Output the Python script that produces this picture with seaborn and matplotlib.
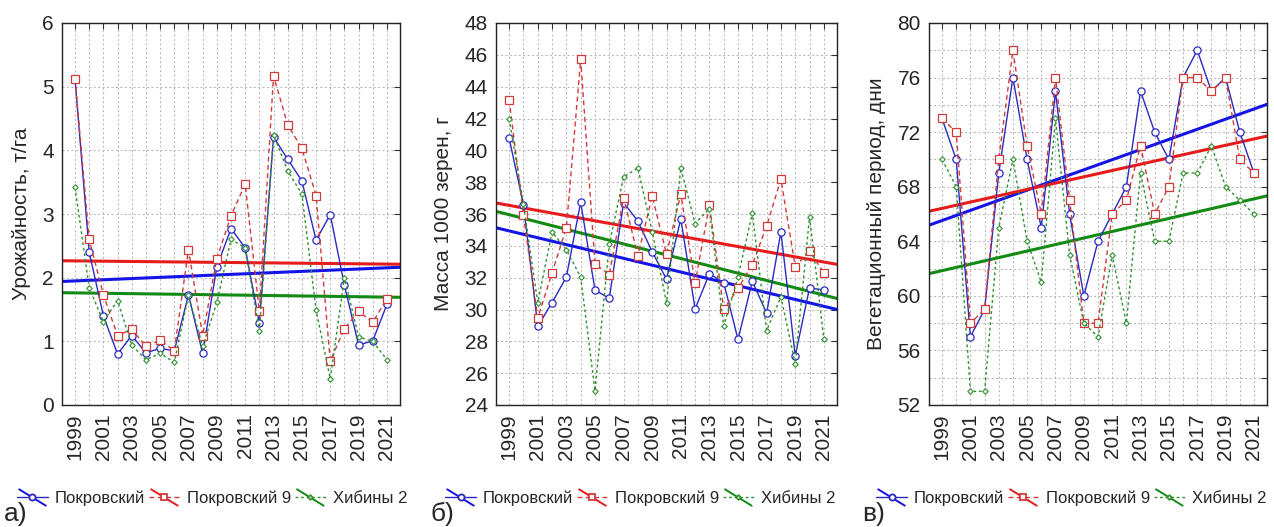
import numpy as np
import pandas as pd
import matplotlib
matplotlib.use("Agg")
import matplotlib.pyplot as plt
import seaborn as sns
from matplotlib.lines import Line2D
from matplotlib.legend_handler import HandlerLine2D
from matplotlib.ticker import FixedLocator, MultipleLocator

# ---- data -------------------------------------------------------------
years = list(range(1999, 2022))
varieties = ["Покровский", "Покровский 9", "Хибины 2"]

# yield, t/ha
yield_pokr = [5.12, 2.40, 1.40, 0.80, 1.09, 0.82, 0.89, 0.85, 1.73, 0.81,
              2.17, 2.77, 2.47, 1.29, 4.21, 3.86, 3.52, 2.59, 2.99, 1.88,
              0.94, 1.01, 1.58]
yield_pokr9 = [5.12, 2.60, 1.73, 1.09, 1.19, 0.92, 1.02, 0.85, 2.44, 1.09,
               2.30, 2.97, 3.47, 1.47, 5.17, 4.40, 4.03, 3.29, 0.69, 1.20,
               1.47, 1.30, 1.67]
yield_khib2 = [3.42, 1.84, 1.31, 1.64, 0.94, 0.71, 0.81, 0.67, 1.72, 0.92,
               1.61, 2.60, 2.47, 1.17, 4.24, 3.68, 3.31, 1.49, 0.41, 2.00,
               1.07, 1.00, 0.71]

# 1000-grain mass, g
mass_pokr = [40.76, 36.58, 28.95, 30.43, 32.04, 36.74, 31.22, 30.70, 36.72, 35.55,
             33.63, 31.90, 35.69, 30.04, 32.25, 31.69, 28.12, 31.77, 29.77, 34.87,
             27.09, 31.36, 31.22]
mass_pokr9 = [43.18, 35.92, 29.46, 32.31, 35.13, 45.71, 32.87, 32.19, 37.03, 33.38,
              37.13, 33.48, 37.26, 31.67, 36.58, 30.02, 31.32, 32.82, 35.24, 38.19,
              32.70, 33.65, 32.31]
mass_khib2 = [41.98, 36.60, 30.43, 34.87, 33.75, 32.04, 24.89, 34.10, 38.33, 38.89,
              34.89, 30.43, 38.89, 35.40, 36.33, 28.95, 32.04, 36.06, 28.68, 30.80,
              26.58, 35.81, 28.16]

# growing season length, days
veg_pokr = [73, 70, 57, 59, 69, 76, 70, 65, 75, 66,
            60, 64, 66, 68, 75, 72, 70, 76, 78, 75,
            76, 72, 69]
veg_pokr9 = [73, 72, 58, 59, 70, 78, 71, 66, 76, 67,
             58, 58, 66, 67, 71, 66, 68, 76, 76, 75,
             76, 70, 69]
veg_khib2 = [70, 68, 53, 53, 65, 70, 64, 61, 73, 63,
             58, 57, 63, 58, 69, 64, 64, 69, 69, 71,
             68, 67, 66]

panel_labels = ["а)", "б)", "в)"]
y_titles = ["Урожайность, т/га", "Масса 1000 зерен, г", "Вегетационный период, дни"]

# ---- styling ----------------------------------------------------------
sns.set_style("white")
plt.rcParams["font.family"] = ["Liberation Sans", "DejaVu Sans"]

series_style = {
    "Покровский":   dict(color="#2a2ac2", ls="-",  marker="o", ms=5.2, lw=1.0, mew=0.9),
    "Покровский 9": dict(color="#d23a3a", ls=(0, (3.5, 2.5)), marker="s", ms=5.2, lw=1.0, mew=0.9),
    "Хибины 2":     dict(color="#2f8f2f", ls=(0, (2, 2)), marker="D", ms=2.8, lw=1.0, mew=0.8),
}
trend_color = {"Покровский": "#1414e6", "Покровский 9": "#e61c1c", "Хибины 2": "#138a13"}

W, H = 1274, 527
fig = plt.figure(figsize=(W / 100, H / 100), dpi=100)

def px_axes(left, right, top, bottom):
    return fig.add_axes([left / W, 1 - bottom / H, (right - left) / W, (bottom - top) / H])

axes = [px_axes(62, 400, 23, 405), px_axes(496, 837, 23, 405), px_axes(929, 1267, 23, 405)]

panels = [
    dict(values=[yield_pokr, yield_pokr9, yield_khib2], ylim=(0, 6), major=1, minor=1),
    dict(values=[mass_pokr, mass_pokr9, mass_khib2], ylim=(24, 48), major=2, minor=2),
    dict(values=[veg_pokr, veg_pokr9, veg_khib2], ylim=(52, 80), major=4, minor=2),
]
legend_cx = [212, 640, 1071]
label_x = [4, 430, 862]


class TrendHandler(HandlerLine2D):
    """Legend key: series line with marker crossed by the trend line."""

    def __init__(self, tcolor, **kw):
        super().__init__(**kw)
        self.tcolor = tcolor

    def create_artists(self, legend, orig_handle, xdescent, ydescent,
                       width, height, fontsize, trans):
        arts = super().create_artists(legend, orig_handle, xdescent, ydescent,
                                      width, height, fontsize, trans)
        x0, x1 = -xdescent + 0.08 * width, -xdescent + 0.92 * width
        y0, y1 = -ydescent + 1.15 * height, -ydescent - 0.25 * height
        diag = Line2D([x0, x1], [y0, y1], color=self.tcolor, lw=1.4, transform=trans)
        return [diag] + list(arts)


for i, (ax, p) in enumerate(zip(axes, panels)):
    ax.set_xlim(1998.08, 2021.92)
    ax.set_ylim(*p["ylim"])

    handles = []
    for name, vals in zip(varieties, p["values"]):
        df = pd.DataFrame({"year": years, "value": vals})
        st = series_style[name]
        sns.regplot(data=df, x="year", y="value", ax=ax, scatter=False, ci=None,
                    truncate=False, line_kws=dict(color=trend_color[name], lw=2.2, zorder=2))
        sns.lineplot(data=df, x="year", y="value", ax=ax, color=st["color"],
                     linestyle=st["ls"], lw=st["lw"], marker=st["marker"], ms=st["ms"],
                     mfc="white", mec=st["color"], mew=st["mew"], zorder=3)
        h = Line2D([], [], color=st["color"], ls=st["ls"], lw=st["lw"], marker=st["marker"],
                   ms=st["ms"] * 0.85, mfc="white", mec=st["color"], mew=st["mew"] + 0.4)
        handles.append(h)

    ax.set_xlim(1998.08, 2021.92)
    ax.set_ylim(*p["ylim"])
    ax.xaxis.set_major_locator(FixedLocator(years[::2]))
    ax.xaxis.set_minor_locator(FixedLocator(years))
    ax.yaxis.set_major_locator(MultipleLocator(p["major"]))
    ax.yaxis.set_minor_locator(MultipleLocator(p["minor"]))
    ax.grid(which="both", color="#bdbdbd", ls=(0, (2, 2)), lw=0.8)
    ax.set_axisbelow(True)
    ax.tick_params(which="both", direction="in", top=True, right=True, length=4,
                   width=0.8, color="#333333")
    ax.tick_params(axis="both", which="major", labelsize=15, pad=6)
    ax.tick_params(axis="x", which="major", labelrotation=90)
    for s in ax.spines.values():
        s.set_color("#222222")
        s.set_linewidth(1.0)
    ax.set_xlabel("")
    ax.set_ylabel(y_titles[i], fontsize=15, labelpad=8)

    hmap = {h: TrendHandler(trend_color[n], numpoints=1) for h, n in zip(handles, varieties)}
    ax.legend(handles, varieties, handler_map=hmap, loc="center",
              bbox_to_anchor=(legend_cx[i] / W, 1 - 498 / H), bbox_transform=fig.transFigure,
              ncol=3, frameon=False, fontsize=12, handlelength=1.9, handletextpad=0.4,
              columnspacing=0.2, borderaxespad=0)

    fig.text(label_x[i] / W, 1 - 526 / H, panel_labels[i], fontsize=19,
             ha="left", va="bottom")

fig.savefig("out.png", dpi=100)
